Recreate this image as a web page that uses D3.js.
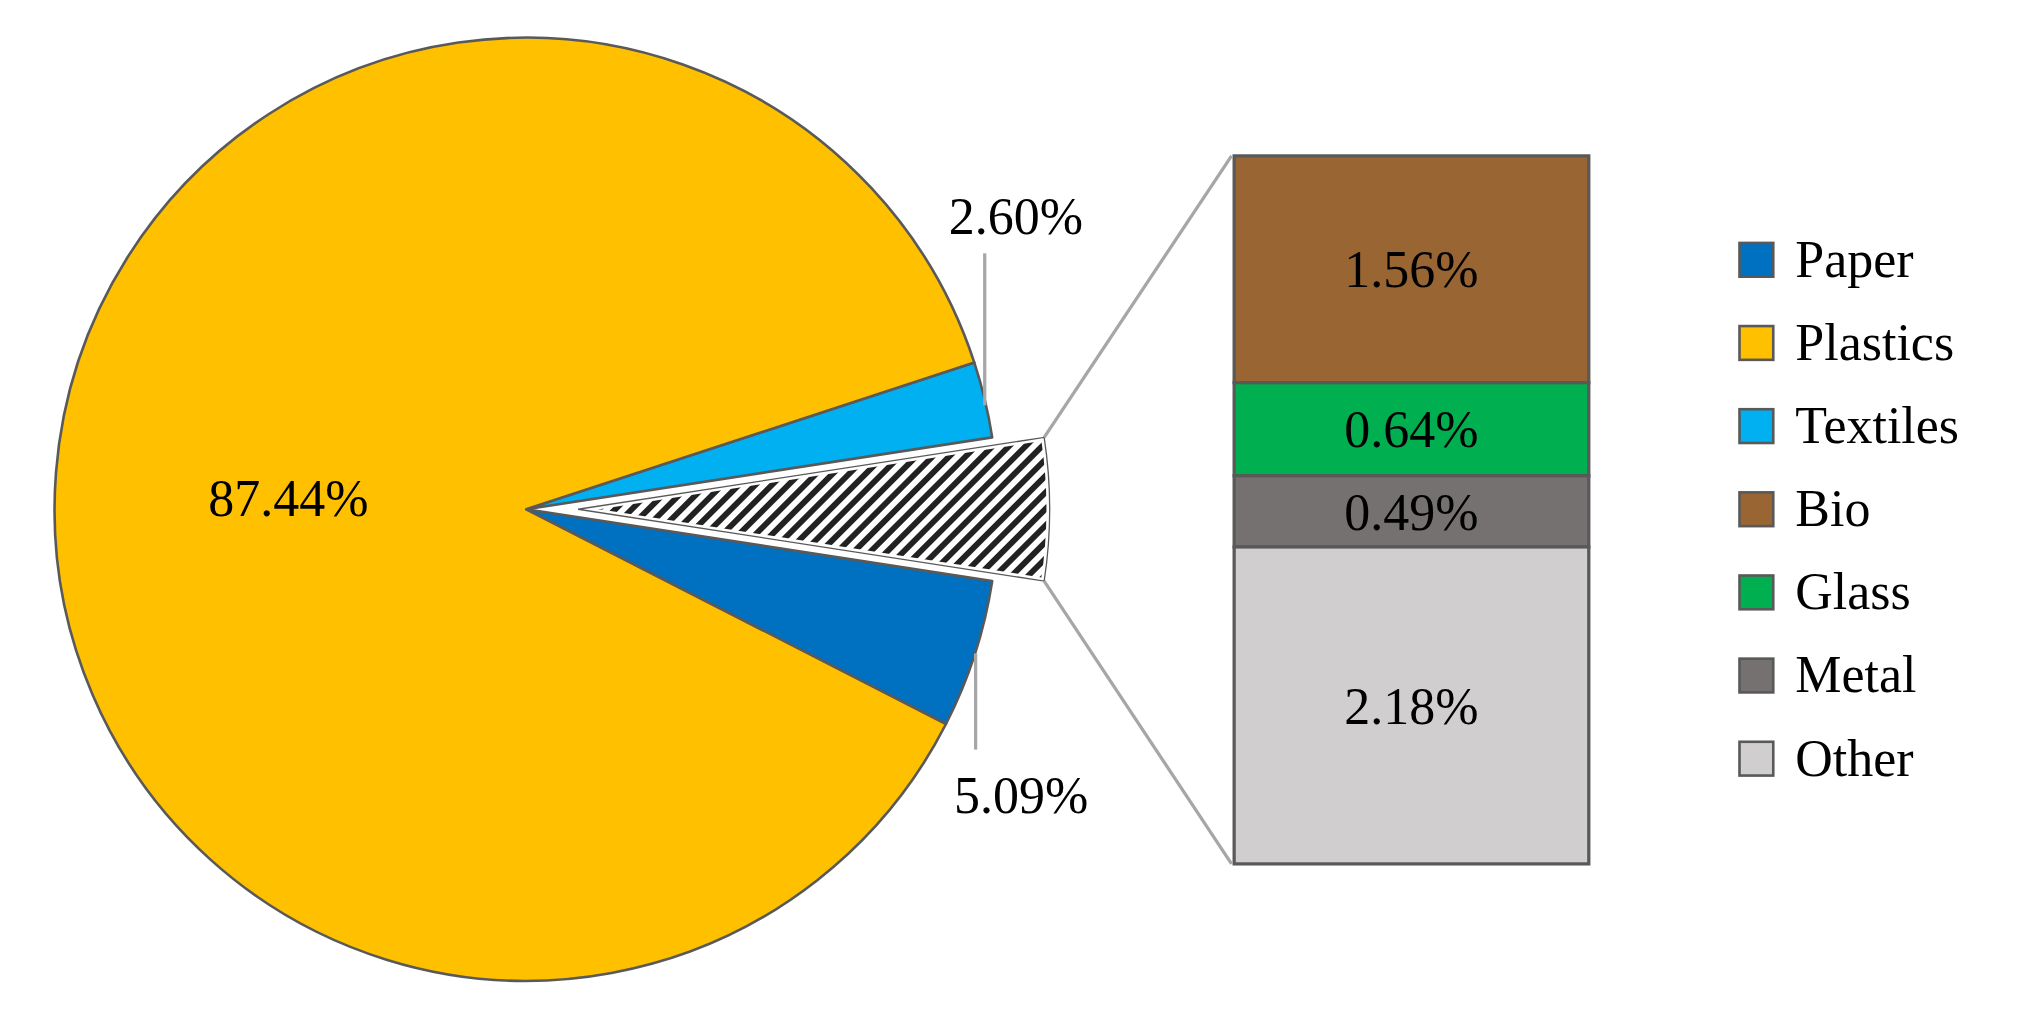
<!DOCTYPE html>
<html><head><meta charset="utf-8">
<script src="https://cdn.jsdelivr.net/npm/d3@7"></script>
<style>body{margin:0;background:#fff}</style></head>
<body><svg id="c" width="2037" height="1026"></svg>
<script>
const pieCats = ["Textiles","Rest","Paper","Plastics"];
const pieVals = [2.60, 4.87, 5.09, 87.44];
const pieLabels = ["2.60%","","5.09%","87.44%"];
const barCats = ["Bio","Glass","Metal","Other"];
const barVals = [1.56, 0.64, 0.49, 2.18];
const barLabels = ["1.56%","0.64%","0.49%","2.18%"];
const legendCats = ["Paper","Plastics","Textiles","Bio","Glass","Metal","Other"];
const colors = {Paper:"#0070c0",Plastics:"#ffc000",Textiles:"#00b0f0",Bio:"#996633",Glass:"#00b050",Metal:"#767171",Other:"#d0cece"};

const svg = d3.select("#c");
const defs = svg.append("defs");
const pat = defs.append("pattern").attr("id","hatch").attr("patternUnits","userSpaceOnUse")
  .attr("width",9).attr("height",9).attr("patternTransform","rotate(45)");
pat.append("rect").attr("width",9).attr("height",9).attr("fill","#fff");
pat.append("rect").attr("width",4.5).attr("height",9).attr("fill","#222");

const g = svg.append("g").attr("transform","scale(1.2991)");
const font = "'Liberation Serif', serif";
const cx = 405, cy = 392, R = 363;
const total = d3.sum(pieVals);
const start = Math.PI/2 - (pieVals[0] + pieVals[1]/2)/total*2*Math.PI;
const pie = d3.pie().sort(null).startAngle(start).endAngle(start+2*Math.PI)(pieVals);
const arc = d3.arc().innerRadius(0).outerRadius(R);
const pg = g.append("g").attr("transform",`translate(${cx},${cy})`);
pie.forEach((d,i)=>{
  const name = pieCats[i];
  const mid = (d.startAngle+d.endAngle)/2;
  const off = name==="Rest" ? 40 : 0;
  const dx = off*Math.sin(mid), dy = -off*Math.cos(mid);
  pg.append("path").attr("d",arc(d)).attr("transform",`translate(${dx},${dy})`)
    .attr("fill", name==="Rest" ? "url(#hatch)" : colors[name])
    .attr("stroke", name==="Rest" ? "#fff" : "#595959")
    .attr("stroke-width", name==="Rest" ? 5 : 2).attr("stroke-linejoin","round");
  if(name==="Rest"){
    pg.append("path").attr("d",arc(d)).attr("transform",`translate(${dx},${dy})`)
      .attr("fill","none").attr("stroke","#595959").attr("stroke-width",1);
  }
});
// labels
g.append("text").attr("x",222).attr("y",397).attr("text-anchor","middle").attr("font-family",font).attr("font-size",40).text(pieLabels[3]);
g.append("text").attr("x",782).attr("y",180).attr("text-anchor","middle").attr("font-family",font).attr("font-size",40).text(pieLabels[0]);
g.append("line").attr("x1",758).attr("y1",195).attr("x2",758).attr("y2",312).attr("stroke","#a6a6a6").attr("stroke-width",2.5);
g.append("text").attr("x",786).attr("y",626).attr("text-anchor","middle").attr("font-family",font).attr("font-size",40).text(pieLabels[2]);
g.append("line").attr("x1",751).attr("y1",503).attr("x2",751).attr("y2",577).attr("stroke","#a6a6a6").attr("stroke-width",2.5);

// bar
const bx = 950, bw = 273, by0 = 120, by1 = 665;
const y = d3.scaleLinear().domain([0, d3.sum(barVals)]).range([by0, by1]);
let cum = 0;
barVals.forEach((v,i)=>{
  const y0 = y(cum), y1 = y(cum+v); cum += v;
  g.append("rect").attr("x",bx).attr("y",y0).attr("width",bw).attr("height",y1-y0)
    .attr("fill",colors[barCats[i]]).attr("stroke","#595959").attr("stroke-width",2.5);
  g.append("text").attr("x",bx+bw/2).attr("y",(y0+y1)/2+14).attr("text-anchor","middle")
    .attr("font-family",font).attr("font-size",40).text(barLabels[i]);
});
// connectors
const rest = pie[1];
const mid = (rest.startAngle+rest.endAngle)/2;
const ox = cx + 40*Math.sin(mid), oy = cy - 40*Math.cos(mid);
[rest.startAngle, rest.endAngle].forEach((a,k)=>{
  const px = ox + R*Math.sin(a), py = oy - R*Math.cos(a);
  g.append("line").attr("x1",px).attr("y1",py).attr("x2",bx-2).attr("y2",k===0?by0:by1)
    .attr("stroke","#a6a6a6").attr("stroke-width",2.5);
});
// legend
legendCats.forEach((c,i)=>{
  const yy = 200 + i*64;
  g.append("rect").attr("x",1339).attr("y",yy-13).attr("width",26).attr("height",26)
    .attr("fill",colors[c]).attr("stroke","#595959").attr("stroke-width",2);
  g.append("text").attr("x",1382).attr("y",yy+13).attr("font-family",font).attr("font-size",40).text(c);
});
</script></body></html>
